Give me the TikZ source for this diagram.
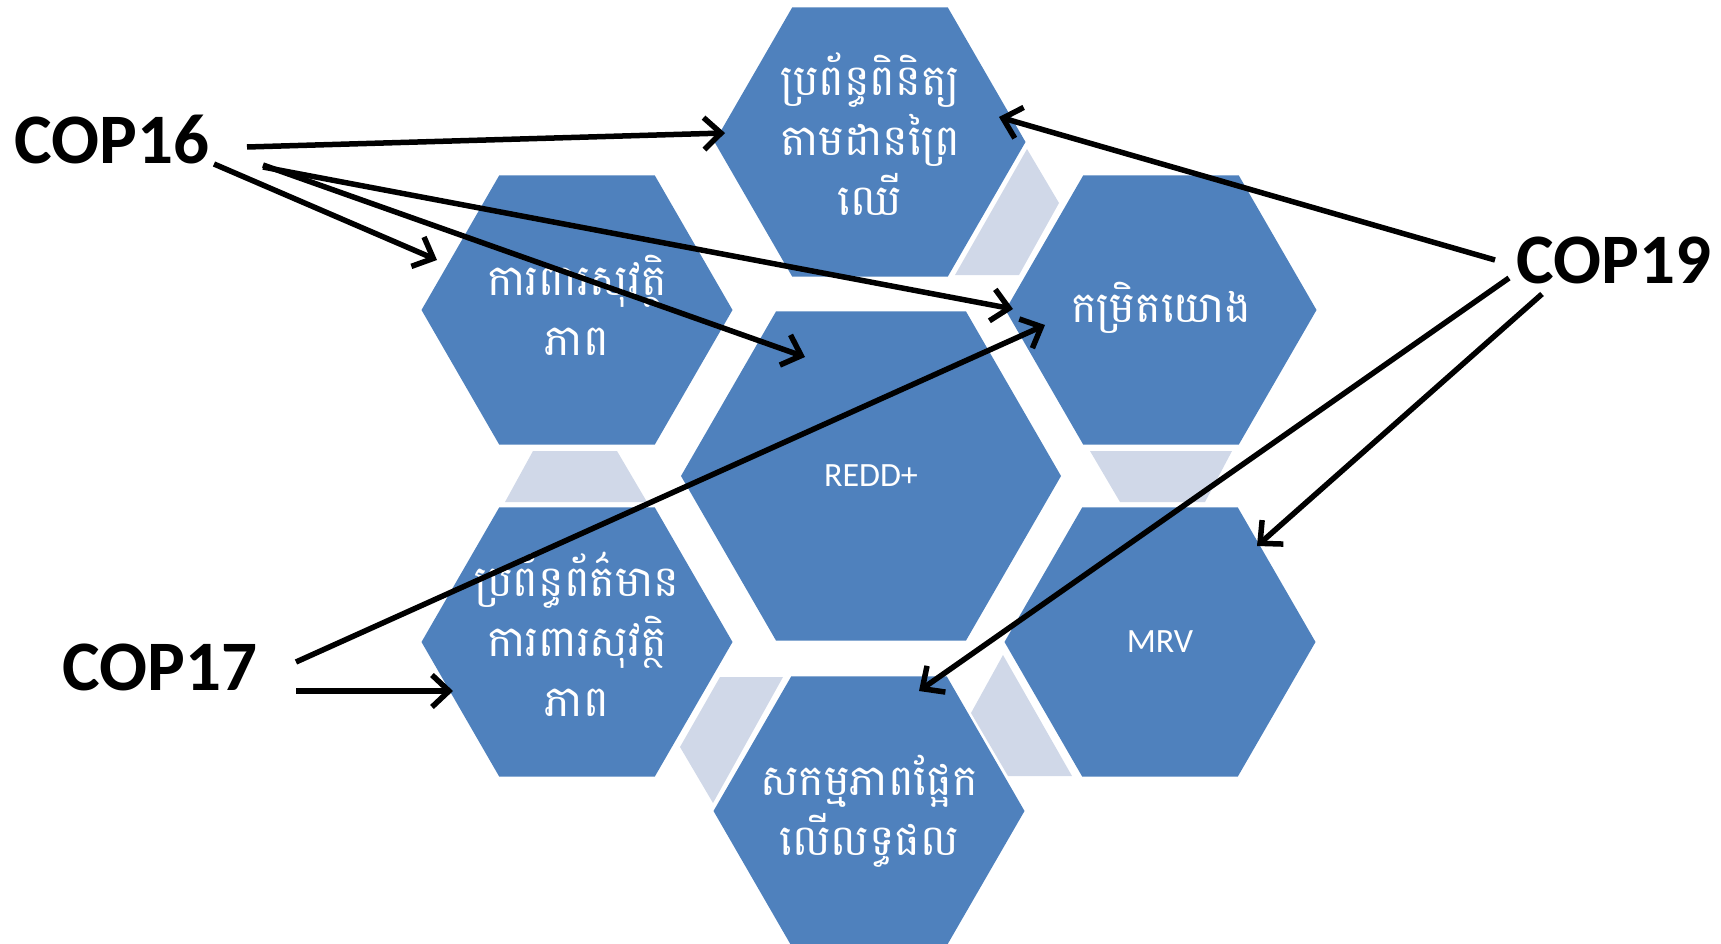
\documentclass[tikz,border=0pt]{standalone}
\usepackage{fontspec}
\setmainfont{Carlito}
\newfontfamily\khmer[Script=Khmer]{Battambang}
\usetikzlibrary{shapes.geometric,arrows.meta}
\definecolor{hexblue}{HTML}{4F81BD}
\definecolor{linkgray}{HTML}{D0D8E8}
\begin{document}
\begin{tikzpicture}[x=1pt,y=-1pt,
  hexs/.style={regular polygon, regular polygon sides=6, fill=hexblue, draw=none, inner sep=0pt},
  smallhex/.style={hexs, minimum size=311pt},
  bighex/.style={hexs, minimum size=380pt},
  ktext/.style={text=white, align=center, inner sep=0pt, font=\khmer\fontsize{43}{60}\selectfont},
  ltext/.style={text=white, inner sep=0pt, font=\fontsize{34}{40}\selectfont},
  link/.style={fill=linkgray, draw=none},
  cop/.style={font=\bfseries\fontsize{71}{80}\selectfont, inner sep=0pt},
  arr/.style={-{Straight Barb[length=17pt,width=32pt]}, line width=5.5pt}
]
\useasboundingbox (0,0) rectangle (1721,944);
\clip (0,0) rectangle (1721,944);
% light links
\fill[link] (1027,149) -- (1059,203) -- (1019,275) -- (955,275) -- cycle;
\fill[link] (533,451) -- (617,451) -- (647,502) -- (505,502) -- cycle;
\fill[link] (1090,451) -- (1232,451) -- (1205,502) -- (1120,502) -- cycle;
\fill[link] (720,677) -- (783,677) -- (713,803) -- (680,747) -- cycle;
\fill[link] (1003,655) -- (1072,776) -- (1008,776) -- (971,713) -- cycle;
% hexagons
\node[smallhex] (top) at (870,142) {};
\node[smallhex] (lt) at (577,310) {};
\node[smallhex] (rt) at (1161,310) {};
\node[bighex] (redd) at (871,476) {};
\node[smallhex] (lb) at (577,642) {};
\node[smallhex] (mrv) at (1160,642) {};
\node[smallhex] (bot) at (869,811) {};
% texts
\node[ktext] (ttop) at ([yshift=8pt]top.center) {ប្រព័ន្ធពិនិត្យ\\តាមដានព្រៃ\\ឈើ};
\node[ktext] (tlt) at ([yshift=5pt]lt.center) {ការពារសុវត្ថិ\\ភាព};
\node[ktext] (trt) at ([yshift=2pt]rt.center) {កម្រិតយោង};
\node[ltext] (tredd) at (redd) {REDD+};
\node[ktext] (tlb) at ([yshift=8pt]lb.center) {ប្រព័ន្ធព័ត៌មាន\\ការពារសុវត្ថិ\\ភាព};
\node[ltext] (tmrv) at (mrv) {MRV};
\node[ktext] (tbot) at (bot) {សកម្មភាពផ្អែក\\លើលទ្ធផល};
% COP labels
\node[cop] (cop16) at (112,140) {COP16};
\node[cop] (cop19) at (1614,260) {COP19};
\node[cop] (cop17) at (160,667) {COP17};
% arrow endpoints
\coordinate (a1s) at (247,147);  \coordinate (a1e) at (725,133);
\coordinate (a2s) at (214,164);  \coordinate (a2e) at (437,260);
\coordinate (a3s) at (263,165);  \coordinate (a3e) at (805,357);
\coordinate (a4s) at (263,167);  \coordinate (a4e) at (1013,309);
\coordinate (b1s) at (1495,260); \coordinate (b1e) at (999,117);
\coordinate (b2s) at (1509,278); \coordinate (b2e) at (919,691);
\coordinate (b3s) at (1542,294); \coordinate (b3e) at (1257,546);
\coordinate (c1s) at (296,662);  \coordinate (c1e) at (1045,325);
\coordinate (c2s) at (296,691);  \coordinate (c2e) at (453,691);
% arrows
\draw[arr] (a1s) -- (a1e);
\draw[arr] (a2s) -- (a2e);
\draw[arr] (a3s) -- (a3e);
\draw[arr] (a4s) -- (a4e);
\draw[arr] (b1s) -- (b1e);
\draw[arr] (b2s) -- (b2e);
\draw[arr] (b3s) -- (b3e);
\draw[arr] (c1s) -- (c1e);
\draw[arr] (c2s) -- (c2e);
\end{tikzpicture}
\end{document}
